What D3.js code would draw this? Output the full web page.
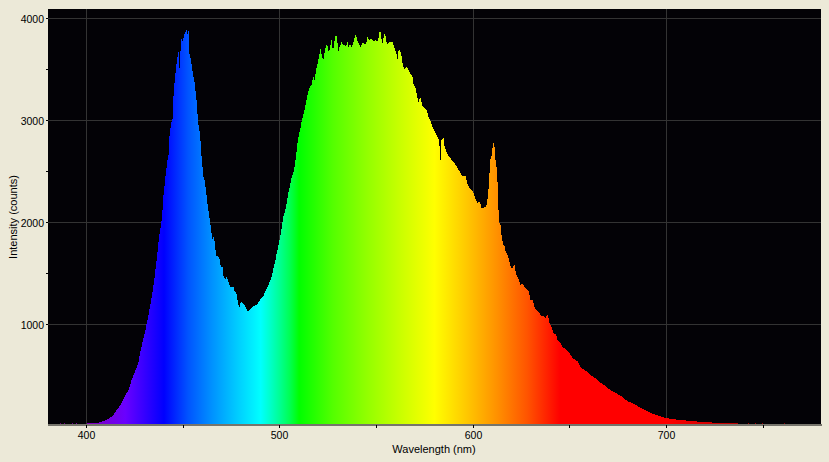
<!DOCTYPE html>
<html>
<head>
<meta charset="utf-8">
<script src="https://cdn.jsdelivr.net/npm/d3@7/dist/d3.min.js"></script>
<style>
html,body{margin:0;padding:0;background:#ece9d8;overflow:hidden}
text{font-family:"Liberation Sans",Arial,sans-serif;fill:#000}
</style>
</head>
<body>
<svg id="chart" width="829" height="462"></svg>
<script>
// Readings from the picture: [wavelength nm, intensity counts]
const riseBand = [[400,28],[402,28],[404,30],[406,32],[407,38],[408,44],[409,50],[410.4,61],[411.7,76],[413,93],[414,115],[414.7,133],[415.5,155],[416.4,176],[417.3,200],[418.1,225],[419,258],[419.8,290],[420.7,322],[421.6,355],[422.5,404],[423.3,453],[424.1,495],[425,535],[425.9,575],[426.7,617],[427.6,715],[428.3,770],[429,829],[429.8,890],[430.5,950],[431.1,1012],[432,1090],[432.8,1173],[433.7,1270],[434.5,1369],[435.2,1470],[435.8,1565],[436.5,1680],[437.1,1795],[437.7,1880],[438.3,1958],[439,2050]];
const blueBand = [[439.7,2252],[440.6,2416],[441.4,2547],[441.8,2550],[441.9,2692],[442.2,2692],[442.3,2640],[442.8,2841],[443.7,2975],[444.5,3024],[444.9,3233],[445.7,3417],[446.6,3577],[447.5,3675],[447.8,3675],[448,3515],[448.3,3515],[448.8,3822],[449.5,3773],[450.5,3839],[451.2,3870],[451.8,3895],[452.3,3835],[452.8,3888],[453.1,3665],[454,3587],[454.9,3466],[455.7,3397],[456.4,3283],[457,3172],[457.6,2988],[458.7,2858],[459.5,2632],[460.4,2449],[461.2,2400],[461.8,2300],[462.6,2170],[463.5,2056],[464.4,1925],[465.2,1827],[465.6,1860]];
const valleyBand = [[466.4,1795],[466.9,1670],[468.6,1660],[469.4,1565],[470.4,1562],[470.7,1484],[471.6,1435],[472.5,1467],[473.3,1418],[474.2,1369],[475.9,1366],[476.7,1320],[477.6,1297],[478.4,1199],[479,1160],[479.7,1219],[481.2,1199],[481.9,1190],[482.8,1140],[483.6,1120],[484.5,1150],[485.4,1160],[486.2,1173],[487.9,1189],[488.8,1212],[490.5,1258],[491.2,1268],[492.2,1310],[493,1340],[494,1385],[494.8,1418],[495.7,1467],[496.5,1533],[497.4,1601],[498.3,1690],[499.1,1762],[500,1844],[500.9,1942],[501.7,2056],[502.6,2105],[503.5,2190],[504.3,2288]];
const greenBand = [[505.2,2350],[505.8,2423],[506.9,2482],[507.8,2563],[508.3,2645],[509,2760],[509.8,2858],[510.7,2926],[511.4,3005],[512.4,3071],[513.4,3169],[514.1,3233],[514.6,3283],[515.5,3332],[516.4,3350],[517.2,3437],[518,3397],[518.6,3479],[519.3,3545],[520.3,3626],[521,3708],[521.8,3630],[522.4,3587],[523.4,3692],[524.4,3767],[525,3675],[525.8,3700],[526.7,3790],[527.5,3675],[528.6,3829],[529.6,3829],[530.1,3665],[531,3731],[531.9,3767],[532.7,3735],[533.7,3745],[534.3,3715],[534.8,3800],[535.4,3715],[536.2,3755],[537.1,3715],[538.2,3780],[539.3,3855],[540,3790],[541.7,3724],[543,3765],[543.9,3745],[544.7,3765],[545.3,3816],[546.4,3790],[547.3,3805],[548.3,3775],[549.4,3790],[550.4,3775],[551.1,3810],[551.8,3897],[553,3751],[554.3,3865],[555.4,3741],[556.8,3773],[558.2,3773],[559.3,3708],[560.2,3669],[561,3594],[561.5,3708],[562.7,3663],[563.6,3545],[564.4,3505],[565.6,3530],[567,3479],[567.9,3447],[568.7,3430],[569.1,3358],[570.2,3316],[571,3250],[571.6,3178],[572.6,3233],[573.6,3152],[574.8,3119],[576,3096],[576.9,3037],[578,2988],[579.2,2923],[580.1,2890],[581.5,2835],[582.5,2810],[582.8,2612],[583.2,2612],[583.6,2808],[584.6,2835],[585.3,2736],[587,2661],[588.2,2629],[589.6,2596],[591.3,2557],[593,2498],[594.7,2449],[595.9,2465],[597,2384],[597.7,2347],[599.9,2300],[600.8,2252],[602.2,2193],[603.4,2203],[604.4,2138],[606.8,2154]];
const orangePeak = [[607.7,2259],[608.2,2399],[608.9,2612],[609.8,2671],[610.3,2799],[611,2750],[611.7,2580],[612.4,2514],[612.9,2220],[613.4,1997],[614.3,1974],[614.6,1886],[615.4,1788],[616.3,1762],[616.8,1719],[618,1670],[618.9,1599],[620,1540],[621.4,1582],[622.3,1484],[623.1,1464],[624.4,1385],[625.2,1402],[626.6,1369],[627.5,1343],[628.7,1320],[629.7,1238],[630.9,1238],[631.8,1163],[633,1140],[634.4,1110],[635.3,1075],[636.2,1090],[637.3,1062],[638.7,1091],[639.5,1010],[640.4,976],[641.6,912],[643,895],[643.8,839],[645.2,813],[646.4,774],[647.6,764]];
const redTail = [[648.7,740],[649.9,715],[651.6,666],[652.9,650],[654.2,633],[655.9,568],[657.6,550],[659.3,529],[660.6,505],[661.9,486],[663.2,470],[664.5,453],[666.2,421],[667.5,405],[668.8,388],[670.1,365],[671.4,348],[672.7,335],[674,323],[675.7,303],[677.4,284],[678.7,262],[680,240],[681.3,232],[682.6,225],[684.3,205],[686,185],[687.7,170],[689.5,152],[690.8,140],[692.1,127],[693.4,118],[694.7,110],[696.4,98],[698.2,87],[699.9,80],[701.6,74],[703.3,70],[705.1,64],[706.8,60],[708.5,58],[711,53],[713.7,48],[716,44],[718.8,41],[721,38],[724,34],[727,30],[729.2,28],[733,27],[737,25],[741,22]];
// Isolated single-count specks at the two ends of the range
const speckles = [[386.2,30],[388.3,30],[392.4,30],[394.5,30],[742,30],[745.9,30],[749.5,30],[760.8,30]];

const majorX = [400,500,600,700];
const minorX = [450,550,650,750];
const majorY = [1000,2000,3000,4000];
const minorY = [1500,2500,3500];

// Wavelength to colour ramp seen in the fill
const rampNm = [380,400,420,440,452.5,465,477.5,490,495,500,505,510,527.5,545,562.5,580,596,612,628,645,700,740,780];
const rampColour = ["#610061","#8200b5","#6a00ff","#0000ff","#0054ff","#0092ff","#00caff","#00ffff","#00ffca","#00ff92","#00ff54","#00ff00","#54ff00","#92ff00","#caff00","#ffff00","#ffca00","#ff9200","#ff5400","#ff0000","#ff0000","#b30000","#610000"];

const bg="#ece9d8", plotBg="#030206", gridCol="#333333";
const x=d3.scaleLinear().domain([380,780]).range([48,821]);
const y=d3.scaleLinear().domain([20,4095]).range([424,9]);
const colour=d3.scaleLinear().domain(rampNm).range(rampColour);
const crisp=v=>Math.floor(v)+0.5;

const svg=d3.select("#chart");
svg.append("rect").attr("width",829).attr("height",462).attr("fill",bg);
svg.append("rect").attr("x",x(380)).attr("y",y(4095)).attr("width",x(780)-x(380)).attr("height",y(20)-y(4095)).attr("fill",plotBg);

const grad=svg.append("defs").append("linearGradient").attr("id","spectrumFill")
  .attr("gradientUnits","userSpaceOnUse").attr("x1",x(380)).attr("x2",x(780)).attr("y1",0).attr("y2",0);
grad.selectAll("stop").data(rampNm).join("stop")
  .attr("offset",d=>(d-380)/400).attr("stop-color",(d,i)=>rampColour[i]);

const grid=svg.append("g").attr("stroke",gridCol).attr("stroke-width",1);
grid.selectAll("line.v").data(majorX).join("line").attr("class","v")
  .attr("x1",d=>crisp(x(d))).attr("x2",d=>crisp(x(d))).attr("y1",y(4095)).attr("y2",y(20));
grid.selectAll("line.h").data(majorY).join("line").attr("class","h")
  .attr("y1",d=>crisp(y(d))).attr("y2",d=>crisp(y(d))).attr("x1",x(380)).attr("x2",x(780));

const spectrum=[...riseBand,...blueBand,...valleyBand,...greenBand,...orangePeak,...redTail];
const area=d3.area().x(d=>x(d[0])).y0(y(20)).y1(d=>y(d[1])).curve(d3.curveLinear);
svg.append("path").datum(spectrum).attr("d",area).attr("fill","url(#spectrumFill)").attr("shape-rendering","crispEdges");
svg.selectAll("rect.speck").data(speckles).join("rect").attr("class","speck")
  .attr("x",d=>Math.round(x(d[0]))).attr("y",d=>Math.round(y(d[1]))).attr("width",1).attr("height",d=>y(20)-Math.round(y(d[1])))
  .attr("fill",d=>colour(d[0]));

const xAxis=d3.axisBottom(x).tickValues([...majorX,...minorX].sort(d3.ascending))
  .tickFormat(d=>majorX.includes(d)?d:"").tickSize(3).tickPadding(4).offset(0);
const gx=svg.append("g").attr("transform",`translate(0,${y(20)+0.5})`).call(xAxis);
gx.selectAll(".tick").attr("transform",d=>`translate(${crisp(x(d))},0)`);
gx.select(".domain").attr("stroke","#000").attr("d",`M${x(380)},0.5H${x(780)+1}`);

const yAxis=d3.axisLeft(y).tickValues([...majorY,...minorY].sort(d3.ascending))
  .tickFormat(d=>majorY.includes(d)?d:"").tickSize(2).tickPadding(2).offset(0);
const gy=svg.append("g").attr("transform",`translate(${x(380)},0)`).call(yAxis);
gy.selectAll(".tick").attr("transform",d=>`translate(0,${crisp(y(d))})`);
gy.selectAll(".tick text").attr("dy","0.42em");
gy.select(".domain").remove();

svg.selectAll(".tick line").attr("stroke","#000").attr("shape-rendering","crispEdges");
svg.selectAll(".tick text").attr("font-family",'"Liberation Sans",Arial,sans-serif').attr("font-size",10.5).attr("fill","#000");

svg.append("text").attr("x",434).attr("y",453).attr("text-anchor","middle").attr("font-size",11).text("Wavelength (nm)");
svg.append("text").attr("transform","translate(17,217) rotate(-90)").attr("text-anchor","middle").attr("font-size",11).text("Intensity (counts)");
</script>
</body>
</html>
